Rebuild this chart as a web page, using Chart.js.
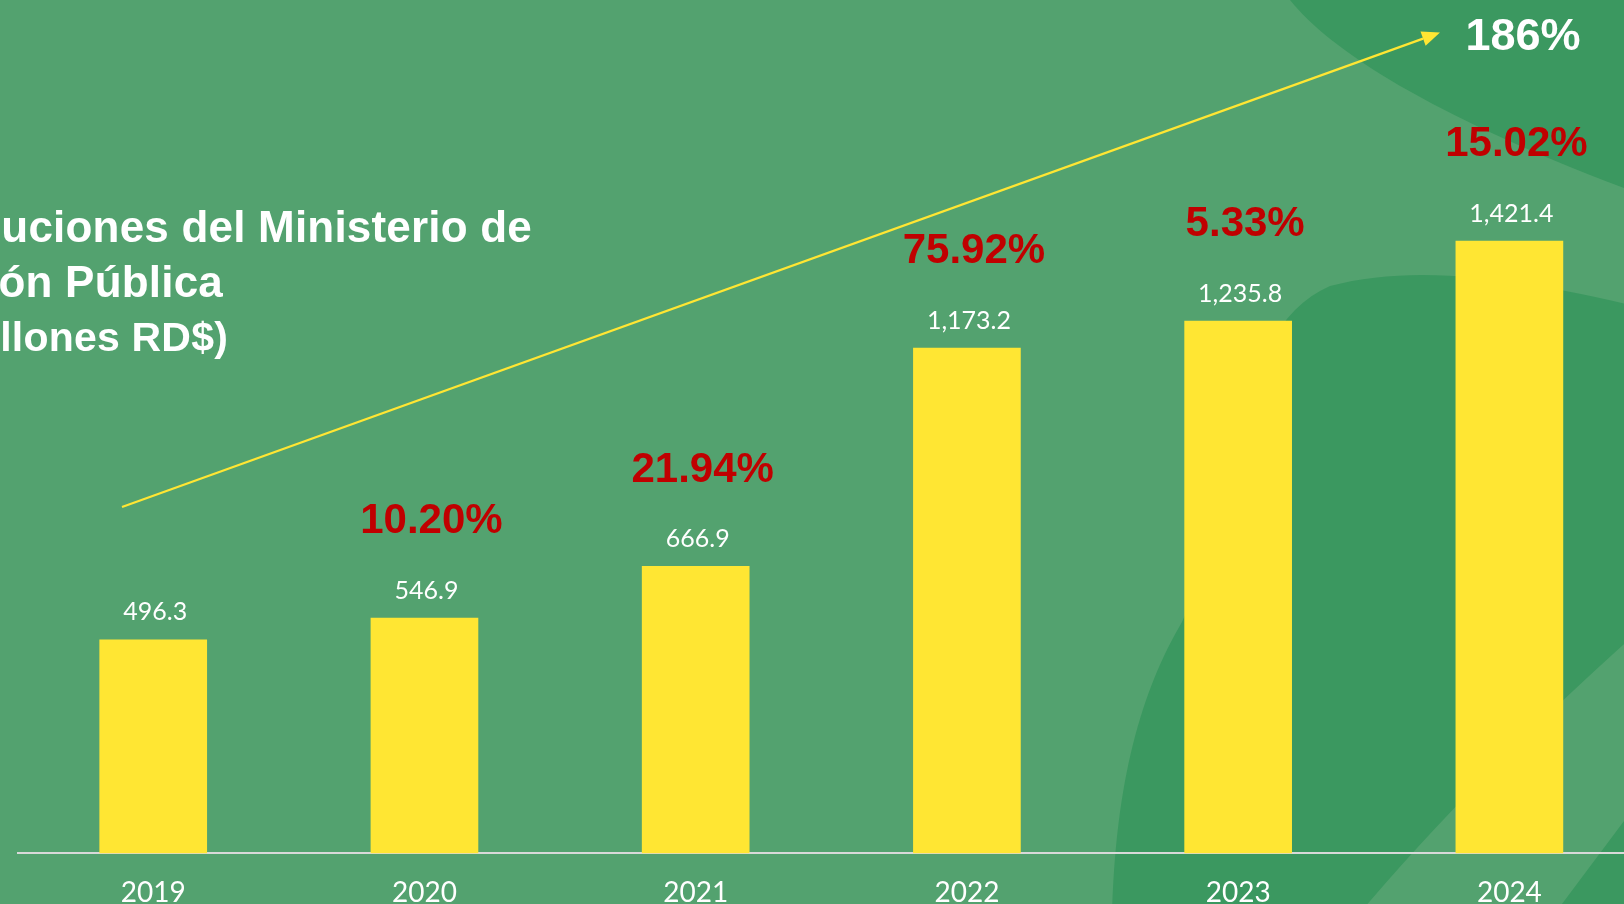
<!DOCTYPE html>
<html>
<head>
<meta charset="utf-8">
<script src="https://cdn.jsdelivr.net/npm/chart.js@4.4.1/dist/chart.umd.min.js"></script>
<style>
  html, body { margin: 0; padding: 0; overflow: hidden; width: 1624px; height: 904px; background: #53A26F; }
  #wrap { position: absolute; left: 0; top: 0; width: 1660px; height: 920px; }
</style>
</head>
<body>
<div id="wrap"><canvas id="chart" width="1660" height="920"></canvas></div>
<script>
// Données (millones RD$)
const years = ['2019', '2020', '2021', '2022', '2023', '2024'];
const amounts = [496.3, 546.9, 666.9, 1173.2, 1235.8, 1421.4];
const growthLabels = ['', '10.20%', '21.94%', '75.92%', '5.33%', '15.02%'];
const totalGrowth = '186%';
const titleLines = ['Ejecuciones del Ministerio de', 'Administración Pública', '(Millones RD$)'];

const LIGHT = '#53A26F';
const DARK = '#3B9860';
const YELLOW = '#FFE633';
const RED = '#C00000';

// fond vert avec les formes décoratives
const backgroundPlugin = {
    id: 'background',
    beforeDraw(chart) {
        const c = chart.ctx;
        c.save();
        c.fillStyle = LIGHT;
        c.fillRect(0, 0, chart.width, chart.height);

        c.fillStyle = DARK;
        // forme en haut à droite
        c.beginPath();
        c.moveTo(1290, 0);
        c.bezierCurveTo(1330, 50, 1430, 115, 1624, 188);
        c.lineTo(1660, 200);
        c.lineTo(1660, 0);
        c.closePath();
        c.fill();

        // forme en bas à droite
        c.beginPath();
        c.moveTo(1112, 920);
        c.bezierCurveTo(1115, 780, 1142, 690, 1182, 622);
        c.bezierCurveTo(1220, 550, 1225, 330, 1330, 286);
        c.bezierCurveTo(1420, 262, 1530, 280, 1660, 312);
        c.lineTo(1660, 920);
        c.closePath();
        c.fill();

        // bande claire diagonale
        c.fillStyle = LIGHT;
        c.beginPath();
        c.moveTo(1354, 920);
        c.quadraticCurveTo(1475, 775, 1660, 612);
        c.lineTo(1660, 792);
        c.lineTo(1624, 821);
        c.lineTo(1550, 920);
        c.closePath();
        c.fill();
        c.restore();
    }
};

const annotationPlugin = {
    id: 'annotations',
    afterDraw(chart) {
        const c = chart.ctx;
        const bars = chart.getDatasetMeta(0).data;
        c.save();

        // valeurs au-dessus des barres
        c.fillStyle = '#FFFFFF';
        c.font = '25px Lato';
        c.textAlign = 'center';
        c.textBaseline = 'alphabetic';
        bars.forEach((bar, i) => {
            const txt = amounts[i].toLocaleString('en-US', { minimumFractionDigits: 1, maximumFractionDigits: 1 });
            c.fillText(txt, bar.x + 2, bar.y - 19);
        });

        // croissance annuelle
        c.fillStyle = RED;
        c.font = 'bold 42px "Liberation Sans", Arial';
        c.textBaseline = 'middle';
        bars.forEach((bar, i) => {
            if (growthLabels[i]) c.fillText(growthLabels[i], bar.x + 7, bar.y - 96);
        });

        // titre (coupé à gauche)
        c.fillStyle = '#FFFFFF';
        c.font = 'bold 44px "Liberation Sans", Arial';
        c.letterSpacing = '0.2px';
        c.textAlign = 'right';
        c.textBaseline = 'alphabetic';
        c.fillText(titleLines[0], 532, 242);
        c.fillText(titleLines[1], 223, 297);
        c.font = 'bold 41px "Liberation Sans", Arial';
        c.fillText(titleLines[2], 228, 351);
        c.letterSpacing = '0px';

        // flèche de tendance
        const x0 = 122, y0 = 507, x1 = 1440, y1 = 32.5;
        const len = Math.hypot(x1 - x0, y1 - y0);
        const ux = (x1 - x0) / len, uy = (y1 - y0) / len;
        const headLen = 18, headW = 7.5;
        const bx = x1 - ux * headLen, by = y1 - uy * headLen;
        c.strokeStyle = YELLOW;
        c.lineWidth = 2.2;
        c.beginPath();
        c.moveTo(x0, y0);
        c.lineTo(bx, by);
        c.stroke();
        c.fillStyle = YELLOW;
        c.beginPath();
        c.moveTo(x1, y1);
        c.lineTo(bx - uy * headW, by + ux * headW);
        c.lineTo(bx + uy * headW, by - ux * headW);
        c.closePath();
        c.fill();

        c.fillStyle = '#FFFFFF';
        c.font = 'bold 45px "Liberation Sans", Arial';
        c.textAlign = 'center';
        c.textBaseline = 'middle';
        c.fillText(totalGrowth, 1523, 38);
        c.restore();
    }
};

function buildChart() {
    const ctx = document.getElementById('chart').getContext('2d');
    new Chart(ctx, {
        type: 'bar',
        data: {
            labels: years,
            datasets: [{
                data: amounts,
                backgroundColor: YELLOW,
                barPercentage: 0.397,
                categoryPercentage: 1
            }]
        },
        options: {
            responsive: false,
            animation: false,
            layout: { padding: { left: 17.6, right: 15, top: 0, bottom: 0 } },
            plugins: { legend: { display: false }, tooltip: { enabled: false } },
            scales: {
                x: {
                    grid: { display: false, drawTicks: false },
                    border: { display: true, color: '#D9D9D9', width: 2 },
                    ticks: { color: '#FFFFFF', font: { family: 'Lato', size: 28 }, padding: 23 },
                    afterFit(scale) { scale.height = 66.6; }
                },
                y: { display: false, min: 0, max: 1980 }
            }
        },
        plugins: [backgroundPlugin, annotationPlugin]
    });
}

Promise.all([
    document.fonts.load('25px Lato'),
    document.fonts.load('bold 42px "Liberation Sans"')
]).then(buildChart, buildChart);
</script>
</body>
</html>
